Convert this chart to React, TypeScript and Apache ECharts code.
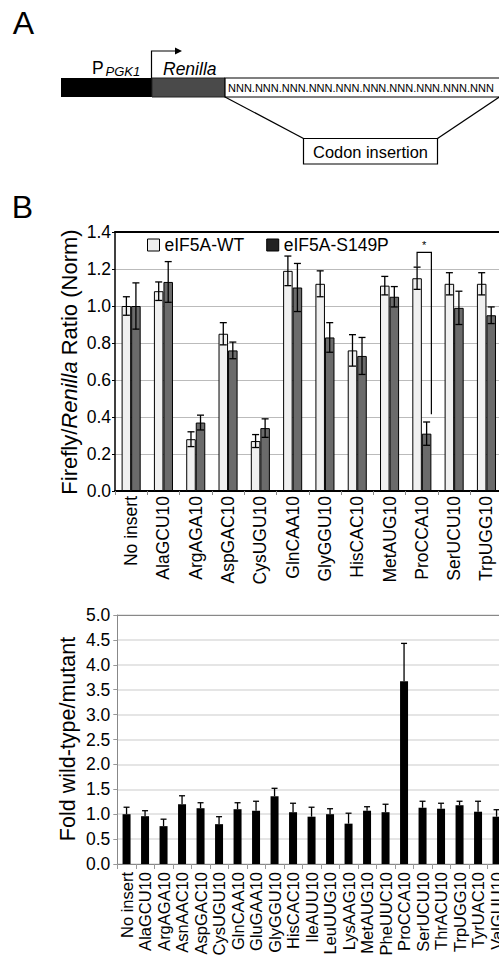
import React, { useEffect, useRef } from "react";
import * as echarts from "echarts";

// ---------- Data ----------
const topCategories = [
  "No insert", "AlaGCU10", "ArgAGA10", "AspGAC10", "CysUGU10", "GlnCAA10",
  "GlyGGU10", "HisCAC10", "MetAUG10", "ProCCA10", "SerUCU10", "TrpUGG10",
];
const wtValues = [1.0, 1.08, 0.28, 0.85, 0.27, 1.19, 1.12, 0.76, 1.11, 1.15, 1.12, 1.12];
const wtErrors = [0.05, 0.05, 0.04, 0.06, 0.035, 0.08, 0.07, 0.085, 0.05, 0.06, 0.06, 0.06];
const mutValues = [1.0, 1.13, 0.37, 0.76, 0.34, 1.1, 0.83, 0.73, 1.05, 0.31, 0.99, 0.95];
const mutErrors = [0.125, 0.11, 0.04, 0.045, 0.05, 0.13, 0.08, 0.1, 0.055, 0.063, 0.09, 0.045];
// significance bracket: [category, leftLegBottom, bracketTop, rightLegBottom, starValue]
const bracketData = [[9, 1.212, 1.29, 0.415, 1.33]];

const foldCategories = [
  "No insert", "AlaGCU10", "ArgAGA10", "AsnAAC10", "AspGAC10", "CysUGU10",
  "GlnCAA10", "GluGAA10", "GlyGGU10", "HisCAC10", "IleAUU10", "LeuUUG10",
  "LysAAG10", "MetAUG10", "PheUUC10", "ProCCA10", "SerUCU10", "ThrACU10",
  "TrpUGG10", "TyrUAC10", "ValGUU10",
];
const foldValues = [1.0, 0.96, 0.76, 1.2, 1.12, 0.8, 1.1, 1.07, 1.36, 1.04, 0.95, 1.0, 0.81, 1.07, 1.04, 3.67, 1.13, 1.11, 1.18, 1.05, 0.95];
const foldErrors = [0.14, 0.11, 0.14, 0.17, 0.11, 0.15, 0.13, 0.19, 0.16, 0.18, 0.19, 0.11, 0.21, 0.08, 0.16, 0.76, 0.13, 0.11, 0.08, 0.21, 0.14];

const topTicks = [0, 1.4, 0.2];
const foldTicks = [0, 5, 0.5];

const FONT = "'Liberation Sans', Arial, Helvetica, sans-serif";
const TOP_GAP = 0.41;

function errorSeries(values: number[], errors: number[], side: number, upperOnly: boolean, axisIdx: number) {
  return {
    type: "custom",
    xAxisIndex: axisIdx,
    yAxisIndex: axisIdx,
    z: 5,
    silent: true,
    data: values.map((v, i) => [i, v, errors[i]]),
    renderItem: (_p: any, api: any) => {
      const i = api.value(0);
      const v = api.value(1);
      const e = api.value(2);
      const c = api.coord([i, v]);
      const band = api.size([1, 0])[0];
      const barW = (band * (1 - TOP_GAP)) / 2;
      const x = c[0] + (side * barW) / 2;
      const yHi = api.coord([i, v + e])[1];
      const yLo = upperOnly ? c[1] : api.coord([i, v - e])[1];
      const cap = upperOnly ? 3 : 3.5;
      const st = { stroke: "#000", lineWidth: 1.3 };
      const children: any[] = [
        { type: "line", shape: { x1: x, y1: yHi, x2: x, y2: yLo }, style: st },
        { type: "line", shape: { x1: x - cap, y1: yHi, x2: x + cap, y2: yHi }, style: st },
      ];
      if (!upperOnly) {
        children.push({ type: "line", shape: { x1: x - cap, y1: yLo, x2: x + cap, y2: yLo }, style: st });
      }
      return { type: "group", children };
    },
  };
}

function buildOption() {
  return {
    animation: false,
    textStyle: { fontFamily: FONT },
    grid: [
      { left: 115, top: 232, width: 387.6, height: 259, containLabel: false, outerBoundsMode: "none" },
      { left: 117.3, top: 615, width: 388.5, height: 249, containLabel: false, outerBoundsMode: "none" },
    ],
    legend: {
      left: 147,
      top: 236,
      padding: 0,
      itemWidth: 12,
      itemHeight: 12,
      itemGap: 22,
      textStyle: { fontSize: 17.5, color: "#000", fontFamily: FONT },
      data: [
        { name: "eIF5A-WT", icon: "rect", itemStyle: { color: "#eeeeee", borderColor: "#000", borderWidth: 1 } },
        { name: "eIF5A-S149P", icon: "rect", itemStyle: { color: "#222", borderColor: "#000", borderWidth: 1 } },
      ],
    },
    xAxis: [
      {
        type: "category",
        gridIndex: 0,
        data: topCategories,
        axisLine: { lineStyle: { color: "#000", width: 2 } },
        axisTick: { show: true, length: 4, lineStyle: { color: "#888" } },
        axisLabel: { interval: 0, rotate: 90, fontSize: 17.5, color: "#000", margin: 5, fontFamily: FONT },
      },
      {
        type: "category",
        gridIndex: 1,
        data: foldCategories,
        axisLine: { lineStyle: { color: "#888", width: 1 } },
        axisTick: { show: true, length: 5, lineStyle: { color: "#999" } },
        axisLabel: { interval: 0, rotate: 90, fontSize: 16.5, color: "#000", margin: 8, fontFamily: FONT },
      },
      {
        type: "category",
        gridIndex: 0,
        position: "top",
        data: topCategories,
        axisLine: { lineStyle: { color: "#000", width: 2 } },
        axisTick: { show: false },
        axisLabel: { show: false },
      },
      {
        type: "category",
        gridIndex: 1,
        position: "top",
        data: foldCategories,
        axisLine: { lineStyle: { color: "#888", width: 1 } },
        axisTick: { show: false },
        axisLabel: { show: false },
      },
    ],
    yAxis: [
      {
        type: "value",
        gridIndex: 0,
        min: topTicks[0],
        max: topTicks[1],
        interval: topTicks[2],
        axisLine: { show: true, lineStyle: { color: "#000", width: 1.5 } },
        axisTick: { show: true, length: 3, lineStyle: { color: "#000" } },
        splitLine: { lineStyle: { color: "#bbb", width: 1.2 } },
        axisLabel: { fontSize: 17.5, color: "#000", margin: 4, fontFamily: FONT, formatter: (v: number) => v.toFixed(1) },
      },
      {
        type: "value",
        gridIndex: 1,
        min: foldTicks[0],
        max: foldTicks[1],
        interval: foldTicks[2],
        axisLine: { show: true, lineStyle: { color: "#888", width: 1 } },
        axisTick: { show: true, length: 4, lineStyle: { color: "#999" } },
        splitLine: { lineStyle: { color: "#ddd", width: 1.5 } },
        axisLabel: { fontSize: 17.5, color: "#000", margin: 7, fontFamily: FONT, formatter: (v: number) => v.toFixed(1) },
      },
    ],
    series: [
      {
        name: "eIF5A-WT",
        type: "bar",
        xAxisIndex: 0,
        yAxisIndex: 0,
        data: wtValues,
        barGap: "0%",
        barCategoryGap: TOP_GAP * 100 + "%",
        itemStyle: { color: "#f0f0f0", borderColor: "#000", borderWidth: 1 },
      },
      {
        name: "eIF5A-S149P",
        type: "bar",
        xAxisIndex: 0,
        yAxisIndex: 0,
        data: mutValues,
        barGap: "0%",
        barCategoryGap: TOP_GAP * 100 + "%",
        itemStyle: { color: "#6b6b6b", borderColor: "#000", borderWidth: 1 },
      },
      errorSeries(wtValues, wtErrors, -1, false, 0),
      errorSeries(mutValues, mutErrors, 1, false, 0),
      {
        type: "custom",
        xAxisIndex: 0,
        yAxisIndex: 0,
        z: 6,
        silent: true,
        data: bracketData,
        renderItem: (_p: any, api: any) => {
          const i = api.value(0);
          const c = api.coord([i, api.value(2)]);
          const band = api.size([1, 0])[0];
          const barW = (band * (1 - TOP_GAP)) / 2;
          const xL = c[0] - barW / 2;
          const xR = c[0] + barW;
          const yL = api.coord([i, api.value(1)])[1];
          const yR = api.coord([i, api.value(3)])[1];
          const yStar = api.coord([i, api.value(4)])[1];
          return {
            type: "group",
            children: [
              {
                type: "polyline",
                shape: { points: [[xL, yL], [xL, c[1]], [xR, c[1]], [xR, yR]] },
                style: { stroke: "#000", lineWidth: 1.2, fill: "none" },
              },
              {
                type: "text",
                style: { text: "*", x: (xL + xR) / 2, y: yStar, align: "center", verticalAlign: "middle", fontSize: 11, fill: "#000", fontFamily: FONT },
              },
            ],
          };
        },
      },
      {
        name: "Fold",
        type: "bar",
        xAxisIndex: 1,
        yAxisIndex: 1,
        data: foldValues,
        barWidth: 8,
        itemStyle: { color: "#000" },
      },
      errorSeries(foldValues, foldErrors, 0, true, 1),
    ],
    graphic: [
      // panel letters
      { type: "text", x: 23.5, y: 22.5, style: { text: "A", fontSize: 32, fontFamily: FONT, fill: "#000", align: "center", verticalAlign: "middle" } },
      { type: "text", x: 22.5, y: 207, style: { text: "B", fontSize: 32, fontFamily: FONT, fill: "#000", align: "center", verticalAlign: "middle" } },
      // schematic
      { type: "rect", shape: { x: 61, y: 78, width: 91, height: 19 }, style: { fill: "#000" } },
      { type: "rect", shape: { x: 152, y: 78, width: 73, height: 19 }, style: { fill: "#4a4a4a", stroke: "#222", lineWidth: 1 } },
      { type: "rect", shape: { x: 225, y: 78, width: 320, height: 19 }, style: { fill: "#fff", stroke: "#000", lineWidth: 1.2 } },
      { type: "text", x: 228, y: 88, style: { text: "NNN.NNN.NNN.NNN.NNN.NNN.NNN.NNN.NNN.NNN", fontSize: 11, fontFamily: FONT, fill: "#000", verticalAlign: "middle" } },
      { type: "polyline", shape: { points: [[151.5, 78], [151.5, 51], [176, 51]] }, style: { stroke: "#000", lineWidth: 1.2, fill: "none" } },
      { type: "polygon", shape: { points: [[175, 47.5], [182, 51], [175, 54.5]] }, style: { fill: "#000" } },
      { type: "text", x: 92, y: 67.5, style: { text: "P", fontSize: 17.5, fontFamily: FONT, fill: "#000", verticalAlign: "middle" } },
      { type: "text", x: 105.5, y: 71.5, style: { text: "PGK1", fontSize: 13, fontStyle: "italic", fontFamily: FONT, fill: "#000", verticalAlign: "middle" } },
      { type: "text", x: 163, y: 69, style: { text: "Renilla", fontSize: 17.5, fontStyle: "italic", fontFamily: FONT, fill: "#000", verticalAlign: "middle" } },
      { type: "line", shape: { x1: 225, y1: 97, x2: 303.5, y2: 138.5 }, style: { stroke: "#000", lineWidth: 1.3 } },
      { type: "line", shape: { x1: 501, y1: 96, x2: 437.5, y2: 138.5 }, style: { stroke: "#000", lineWidth: 1.3 } },
      { type: "rect", shape: { x: 303.5, y: 138.5, width: 134, height: 25.5 }, style: { fill: "#fff", stroke: "#000", lineWidth: 1.2 } },
      { type: "text", x: 370.5, y: 151.5, style: { text: "Codon insertion", fontSize: 16.4, fontFamily: FONT, fill: "#000", align: "center", verticalAlign: "middle" } },
      // axis titles
      {
        type: "text",
        x: 69,
        y: 362,
        rotation: Math.PI / 2,
        style: {
          text: "Firefly/{i|Renilla} Ratio (Norm)",
          rich: { i: { fontStyle: "italic", fontSize: 22, fontFamily: FONT, fill: "#000" } },
          fontSize: 22,
          fontFamily: FONT,
          fill: "#000",
          align: "center",
          verticalAlign: "middle",
        },
      },
      {
        type: "text",
        x: 68,
        y: 739,
        rotation: Math.PI / 2,
        style: { text: "Fold wild-type/mutant", fontSize: 21.5, fontFamily: FONT, fill: "#000", align: "center", verticalAlign: "middle" },
      },
    ],
  };
}

export default function App() {
  const ref = useRef<HTMLDivElement>(null);
  useEffect(() => {
    if (!ref.current) return;
    const chart = echarts.init(ref.current, undefined, { renderer: "svg" });
    chart.setOption(buildOption() as any);
    return () => chart.dispose();
  }, []);
  return (
    <div style={{ position: "absolute", left: 0, top: 0, width: 499, height: 963, overflow: "hidden", background: "#fff" }}>
      <div ref={ref} style={{ width: 520, height: 963 }} />
    </div>
  );
}
